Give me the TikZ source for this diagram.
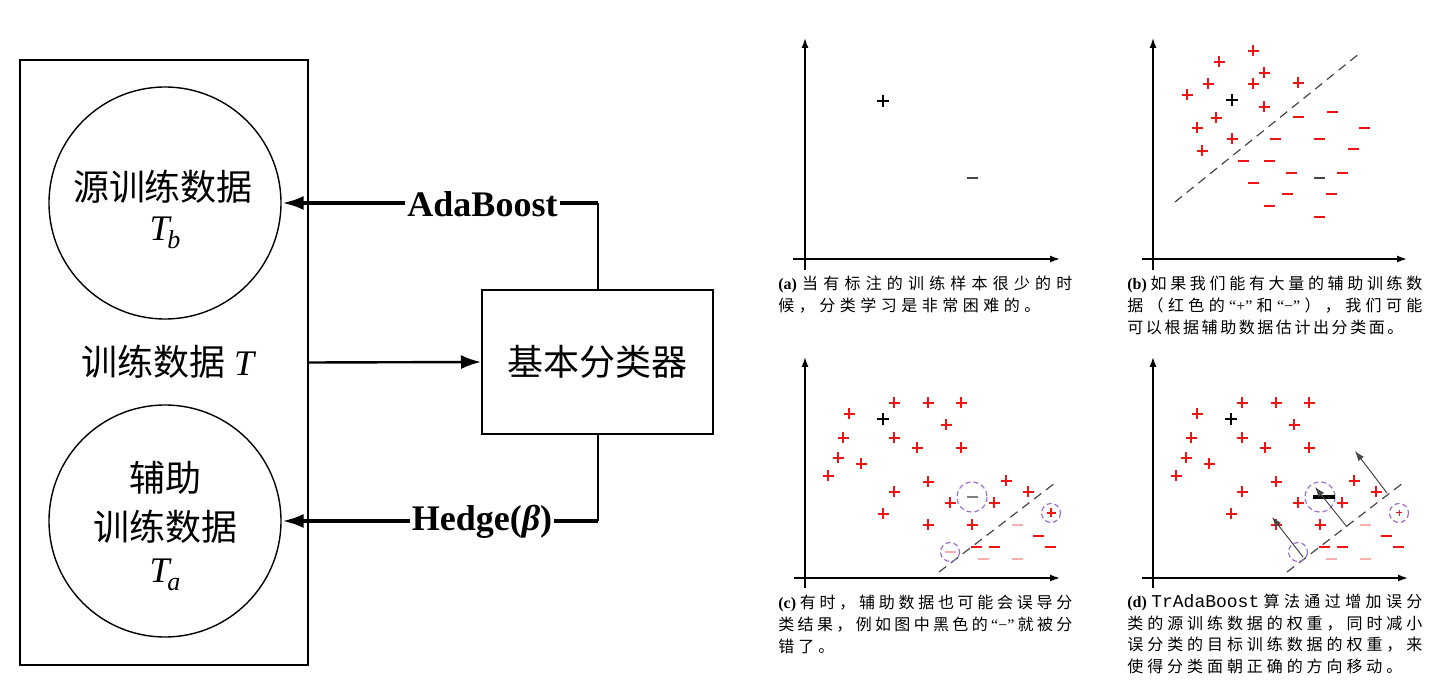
\documentclass[tikz,border=0pt]{standalone}
\usepackage{fontspec}
\setmainfont{Liberation Serif}
\setmonofont{Liberation Mono}
\newfontfamily\cjk{Noto Sans CJK SC}
\usetikzlibrary{arrows.meta}
\definecolor{myred}{RGB}{240,20,20}
\definecolor{mypink}{RGB}{250,175,175}
\definecolor{mypurple}{RGB}{155,115,205}
\definecolor{mygray}{RGB}{70,70,70}
\ExplSyntaxOn
\NewDocumentCommand\spreadline{mm}{\hbox to #1{\tl_map_inline:nn{#2}{##1\hfil}\unskip}}
\ExplSyntaxOff
\newcommand\PlusAt[4][]{\draw[#1] (#2-#4,#3) -- (#2+#4,#3) (#2,#3-#4) -- (#2,#3+#4);}
\newcommand\MinusAt[3][]{\draw[#1] (#2-5.5,#3) -- (#2+5.5,#3);}
\newcommand\Lat[1]{{\rmfamily #1}}
\newcommand\Tag[1]{{\rmfamily\bfseries (#1)}}
\begin{document}
\begin{tikzpicture}[x=0.5pt,y=-0.5pt,
  every node/.style={inner sep=0pt},
  bigcjk/.style={font=\cjk\fontsize{18}{18}\selectfont},
  capt/.style={anchor=west,font=\cjk\fontsize{8}{8}\selectfont},
  circ/.style={draw,circle,line width=0.7pt,minimum size=116pt},
  thickarrow/.style={line width=2pt,-{Latex[length=11pt,width=7pt]}},
  midarrow/.style={line width=1.2pt,-{Latex[length=10pt,width=7pt]}},
  conn/.style={line width=1pt},
  lbl/.style={fill=white,inner xsep=1pt,inner ysep=2pt,font=\rmfamily\bfseries\fontsize{18}{18}\selectfont},
  axis/.style={line width=0.7pt,-{Latex[length=5pt,width=3.5pt]}},
  rp/.style={draw=myred,line width=0.6pt},
  pk/.style={draw=mypink,line width=0.6pt},
  sep/.style={draw=mygray,line width=0.6pt,dash pattern=on 4.5pt off 3pt},
  ring/.style={draw=mypurple,line width=0.6pt,dash pattern=on 2.5pt off 1.5pt},
  mover/.style={draw=mygray,line width=0.5pt,-{Latex[length=5pt,width=3.5pt]}}
]
\path[use as bounding box] (0,0) rectangle (1448,695);

% ---------------- left diagram ----------------
\node[draw,line width=1pt,minimum width=144pt,minimum height=302.5pt] (T) at (164,362.5) {};
\node[circ] (src) at (165,203) {};
\node[circ] (aux) at (165,521) {};
\node[bigcjk] (s1) at (163,187) {源训练数据};
\node[bigcjk] (s2) at (165,233) {\rmfamily\itshape T\kern-0.06em\raisebox{-0.22em}{\fontsize{13}{13}\selectfont b}};
\node[bigcjk] (a1) at (165,478) {辅助};
\node[bigcjk] (a2) at (165,527) {训练数据};
\node[bigcjk] (a3) at (165,575) {\rmfamily\itshape T\kern-0.06em\raisebox{-0.22em}{\fontsize{13}{13}\selectfont a}};
\node[bigcjk] (tt) at (168,362) {训练数据 {\rmfamily\itshape T}};
\node[draw,line width=1pt,minimum width=115.5pt,minimum height=72pt,bigcjk] (box) at (597.5,362) {基本分类器};

\coordinate (c1) at (box.north |- src.east);
\coordinate (c2) at (box.south |- aux.east);
\draw[conn] (box.north) -- (c1);
\draw[conn] (box.south) -- (c2);
\draw[thickarrow] (c1) -- (src.east);
\draw[thickarrow] (c2) -- (aux.east);
\draw[midarrow] (T.east) -- (box.west);
\node[lbl] (ada) at (482.5,204) {AdaBoost};
\node[lbl] (hedge) at (482,522) {Hedge(\itshape β\/\upshape)};

% ---------------- panel (a) ----------------
\coordinate (ay0) at (805,270); \coordinate (ay1) at (805,38);
\coordinate (ax0) at (793,259); \coordinate (ax1) at (1060,259);
\draw[axis] (ay0) -- (ay1);
\draw[axis] (ax0) -- (ax1);
\PlusAt[line width=0.7pt]{883}{101}{6}
\MinusAt[draw=mygray,line width=1.2pt]{972}{178}
\node[capt] (ca1) at (778,284) {\spreadline{147pt}{{\Tag{a}}当有标注的训练样本很少的时}};
\node[capt] (ca2) at (778,305.5) {\spreadline{131pt}{候，分类学习是非常困难的。}};

% ---------------- panel (b) ----------------
\coordinate (by0) at (1153,270); \coordinate (by1) at (1153,38);
\coordinate (bx0) at (1142,259); \coordinate (bx1) at (1407,259);
\draw[axis] (by0) -- (by1);
\draw[axis] (bx0) -- (bx1);
\coordinate (bs0) at (1175,202); \coordinate (bs1) at (1360,53);
\draw[sep] (bs0) -- (bs1);
\foreach \x/\y in {1253/51,1219/62,1264/73,1208/84,1253/84,1298/83,1187/95,1264/107,1216/118,1197/128,1232/139,1202/151}
  {\PlusAt[rp]{\x}{\y}{5.5}}
\PlusAt[line width=0.8pt]{1232}{100}{6}
\foreach \x/\y in {1298/117,1332/112,1364/128,1275/139,1319/139,1353/149,1243/161,1269/161,1291/173,1342/173,1253/183,1287/194,1331/194,1269/206,1319/217}
  {\MinusAt[rp]{\x}{\y}}
\MinusAt[draw=mygray,line width=1.2pt]{1319}{178}
\node[capt] (cb1) at (1127,284) {\spreadline{147.5pt}{{\Tag{b}}如果我们能有大量的辅助训练数}};
\node[capt] (cb2) at (1127,305.5) {\spreadline{147.5pt}{据（红色的{\Lat{“+”}}和{\Lat{“−”}}），我们可能}};
\node[capt] (cb3) at (1127,327) {\spreadline{138pt}{可以根据辅助数据估计出分类面。}};

% ---------------- panels (c) and (d): common parts ----------------
\foreach \dx in {0,348}{
  \draw[axis] (805+\dx,588) -- (805+\dx,357);
  \draw[axis] (794+\dx,578) -- (1060+\dx,578);
  \foreach \x/\y in {894/403,928/403,961/403,849/414,946/425,843/438,894/438,917/448,961/448,838/458,861/464,828/476,928/482,1006/481,894/492,1028/492,950/503,994/503,883/514,928/525,972/525}
    {\PlusAt[rp]{\x+\dx}{\y}{5.5}}
  \PlusAt[line width=0.7pt]{883+\dx}{419}{6}
  \foreach \x/\y in {976.5/547,994/547,1038.5/536,1050.5/547}
    {\MinusAt[rp]{\x+\dx}{\y}}
  \foreach \x/\y in {1017/525,983/559,1017/559}
    {\MinusAt[pk]{\x+\dx}{\y}}
  \draw[sep] (939+\dx,572) -- (1055+\dx,483);
  \draw[ring] (972+\dx,497) circle[radius=15];
  \draw[ring] (950+\dx,552) circle[radius=9.5];
  \draw[ring] (1051+\dx,513) circle[radius=9.5];
}
% panel (c) specifics
\MinusAt[draw=gray,line width=1pt]{972}{497}
\MinusAt[pk]{950}{552}
\PlusAt[rp]{1051}{513}{4.5}
\node[capt] (cc1) at (778,603) {\spreadline{147pt}{{\Tag{c}}有时，辅助数据也可能会误导分}};
\node[capt] (cc2) at (778,624.5) {\spreadline{147pt}{类结果，例如图中黑色的{\Lat{“−”}}就被分}};
\node[capt] (cc3) at (778,646) {\spreadline{28pt}{错了。}};

% panel (d) specifics
\draw[line width=1.8pt] (1313,497) -- (1335,497);
\PlusAt[draw=myred,line width=0.5pt]{1399}{513}{3}
\coordinate (m1a) at (1303,557); \coordinate (m1b) at (1272,517);
\coordinate (m2a) at (1347,527); \coordinate (m2b) at (1315,487);
\coordinate (m3a) at (1387,493); \coordinate (m3b) at (1355,451);
\draw[mover] (m1a) -- (m1b);
\draw[mover] (m2a) -- (m2b);
\draw[mover] (m3a) -- (m3b);
\node[capt] (cd1) at (1127,602) {\spreadline{147.5pt}{{\Tag{d}}{{\ttfamily\fontsize{9}{9}\selectfont TrAdaBoost}}算法通过增加误分}};
\node[capt] (cd2) at (1127,623.5) {\spreadline{147.5pt}{类的源训练数据的权重，同时减小}};
\node[capt] (cd3) at (1127,645) {\spreadline{147.5pt}{误分类的目标训练数据的权重，来}};
\node[capt] (cd4) at (1127,666) {\spreadline{137.5pt}{使得分类面朝正确的方向移动。}};
\end{tikzpicture}
\end{document}
